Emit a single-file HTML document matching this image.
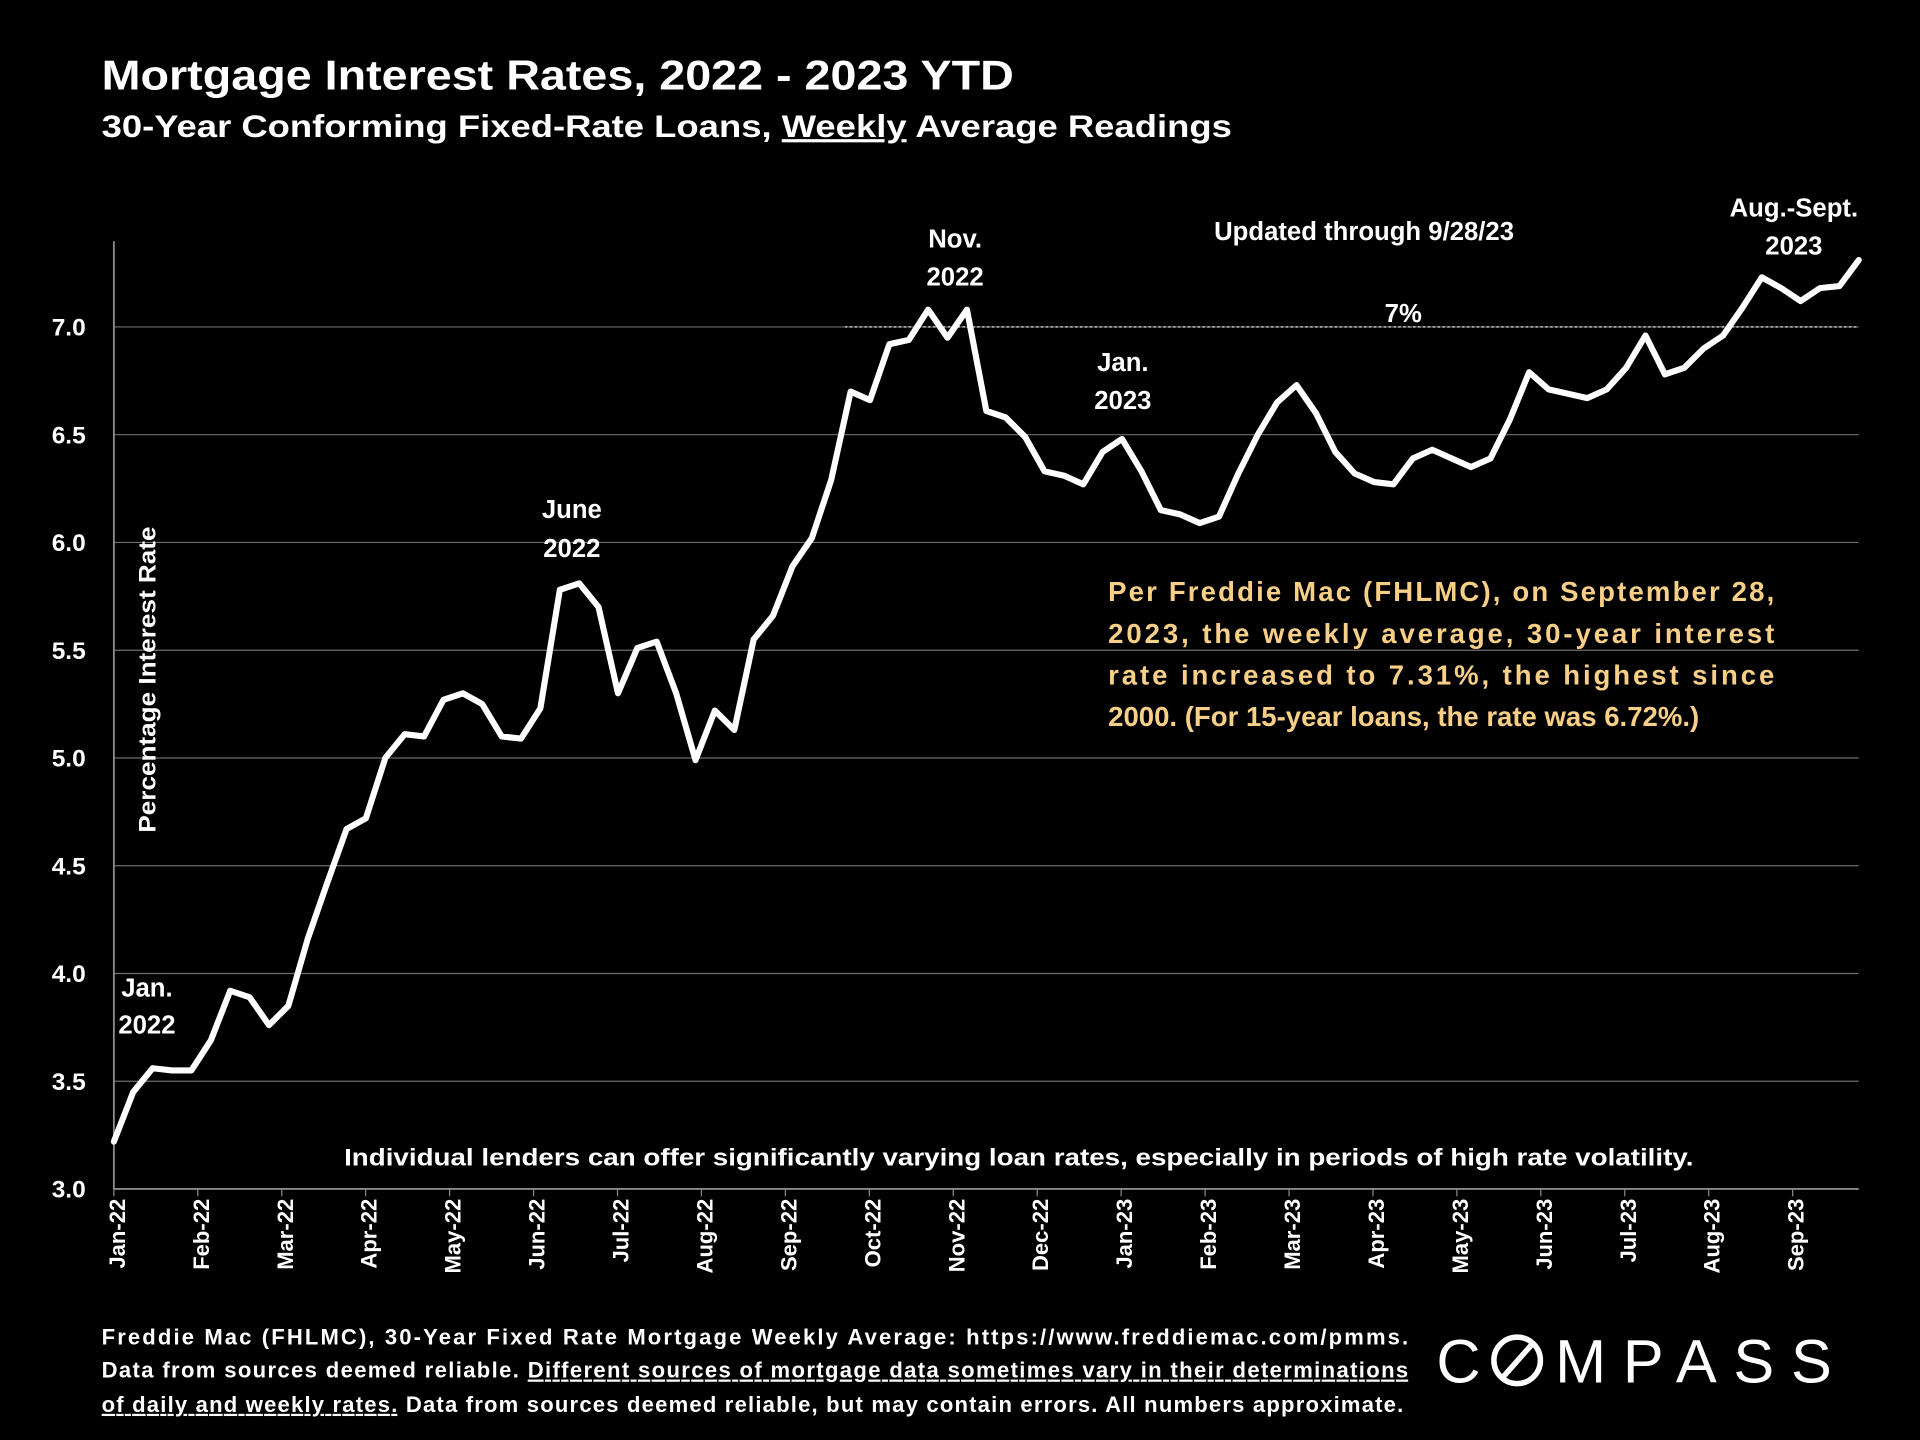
<!DOCTYPE html>
<html><head><meta charset="utf-8"><style>
html,body{margin:0;padding:0;background:#000;}
svg{display:block;}
text{font-family:"Liberation Sans",sans-serif;font-weight:bold;fill:#fff;}
</style></head><body>
<svg id="chart" width="1920" height="1440" viewBox="0 0 1568 1176" xmlns="http://www.w3.org/2000/svg">
<rect width="1568" height="1176" fill="#000"/>
<text x="83" y="73" font-size="34" textLength="745" lengthAdjust="spacingAndGlyphs">Mortgage Interest Rates, 2022 - 2023 YTD</text>
<text x="83" y="112" font-size="26" textLength="923" lengthAdjust="spacingAndGlyphs">30-Year Conforming Fixed-Rate Loans, <tspan text-decoration="underline">Weekly</tspan> Average Readings</text>
<g id="grid"></g>
<g id="yticks"></g>
<g id="xticks"></g>
<text transform="translate(127,555) rotate(-90)" text-anchor="middle" font-size="20" textLength="250" lengthAdjust="spacingAndGlyphs">Percentage Interest  Rate</text>
<line x1="690" x2="1516" y1="267" y2="267" stroke="#fff" stroke-width="1" stroke-dasharray="2,2"/>
<text x="1146" y="263" font-size="21" text-anchor="middle">7%</text>
<polyline id="series" fill="none" stroke="#fff" stroke-width="5" stroke-linejoin="round" stroke-linecap="round"/>
<g font-size="21" text-anchor="middle">
<text x="120" y="814">Jan.</text><text x="120" y="844">2022</text>
<text x="467" y="423">June</text><text x="467" y="455">2022</text>
<text x="780" y="202">Nov.</text><text x="780" y="233">2022</text>
<text x="917" y="303">Jan.</text><text x="917" y="334">2023</text>
<text x="1465" y="177">Aug.-Sept.</text><text x="1465" y="208">2023</text>
<text x="1114" y="196">Updated through 9/28/23</text>
</g>
<g font-size="22.5" style="fill:#f7cf86">
<text x="905" y="491" textLength="544" lengthAdjust="spacing" style="fill:#f7cf86">Per Freddie Mac (FHLMC), on September 28,</text>
<text x="905" y="525" textLength="544" lengthAdjust="spacing" style="fill:#f7cf86">2023, the weekly average, 30-year interest</text>
<text x="905" y="559" textLength="544" lengthAdjust="spacing" style="fill:#f7cf86">rate increased to 7.31%, the highest since</text>
<text x="905" y="593" style="fill:#f7cf86">2000. (For 15-year loans, the rate was 6.72%.)</text>
</g>
<text x="832" y="952" font-size="20" text-anchor="middle" textLength="1102" lengthAdjust="spacingAndGlyphs">Individual lenders can offer significantly varying loan rates, especially in periods of high rate volatility.</text>
<g font-size="18">
<text x="83" y="1098" textLength="1067" lengthAdjust="spacing">Freddie Mac (FHLMC), 30-Year Fixed Rate Mortgage Weekly Average:  https://www.freddiemac.com/pmms.</text>
<text x="83" y="1125" textLength="1067" lengthAdjust="spacing">Data from sources deemed reliable. <tspan text-decoration="underline">Different sources of mortgage data sometimes vary in their determinations</tspan></text>
<text x="83" y="1153" textLength="1063" lengthAdjust="spacing"><tspan text-decoration="underline">of daily and weekly rates.</tspan> Data from sources deemed reliable, but may contain errors. All numbers approximate.</text>
</g>
<g>
<text x="1173" y="1129" font-size="50" style="font-weight:normal" letter-spacing="9">C</text>
<circle cx="1239" cy="1111" r="19" fill="none" stroke="#fff" stroke-width="4.5"/>
<line x1="1228" y1="1124" x2="1251" y2="1098" stroke="#fff" stroke-width="4.5"/>
<text x="1270" y="1129" font-size="50" style="font-weight:normal" letter-spacing="9" textLength="235" lengthAdjust="spacing">MPASS</text>
</g>
</svg>
<script>
const yTicks=[3.0,3.5,4.0,4.5,5.0,5.5,6.0,6.5,7.0];
const monthLabels=["Jan-22","Feb-22","Mar-22","Apr-22","May-22","Jun-22","Jul-22","Aug-22","Sep-22","Oct-22","Nov-22","Dec-22","Jan-23","Feb-23","Mar-23","Apr-23","May-23","Jun-23","Jul-23","Aug-23","Sep-23"];
const rates=[3.22,3.45,3.56,3.55,3.55,3.69,3.92,3.89,3.76,3.85,4.16,4.42,4.67,4.72,5.00,5.11,5.10,5.27,5.30,5.25,5.10,5.09,5.23,5.78,5.81,5.70,5.30,5.51,5.54,5.30,4.99,5.22,5.13,5.55,5.66,5.89,6.02,6.29,6.70,6.66,6.92,6.94,7.08,6.95,7.08,6.61,6.58,6.49,6.33,6.31,6.27,6.42,
6.48,6.33,6.15,6.13,6.09,6.12,6.32,6.50,6.65,6.73,6.60,6.42,6.32,6.28,6.27,6.39,6.43,6.39,6.35,6.39,6.57,6.79,6.71,6.69,6.67,6.71,6.81,6.96,6.78,6.81,6.90,6.96,7.09,7.23,7.18,7.12,7.18,7.19,7.31];
const NS="http://www.w3.org/2000/svg";
const x0=93,x1=1518,yBase=971,yTop=267;
function yScale(v){return yBase-(v-3.0)/(7.0-3.0)*(yBase-yTop);}
function xScale(i){return x0+i*(x1-x0)/(rates.length-1);}
function mScale(i){return 96+i*(1467-96)/(monthLabels.length-1);}
function mk(tag,attrs,parent){const e=document.createElementNS(NS,tag);for(const k in attrs)e.setAttribute(k,attrs[k]);parent.appendChild(e);return e;}
const grid=document.getElementById('grid'),yt=document.getElementById('yticks'),xt=document.getElementById('xticks');
yTicks.forEach(v=>{
  if(v>3.0){const l=mk('line',{x1:x0,x2:x1,y1:yScale(v),y2:yScale(v),stroke:'#6e6e6e','stroke-width':1},grid);
  
  }
  const t=mk('text',{x:70,y:yScale(v)+7,'text-anchor':'end','font-size':20},yt);
  t.textContent=v.toFixed(1);
  
  
});
const ax=mk('line',{x1:x0,x2:x0,y1:197,y2:yBase,stroke:'#8a8a8a','stroke-width':1.5},grid);


const bx=mk('line',{x1:x0,x2:x1,y1:yBase,y2:yBase,stroke:'#8a8a8a','stroke-width':1.5},grid);


monthLabels.forEach((m,i)=>{
  const x=mScale(i);
  const tk=mk('line',{x1:x-3,x2:x-3,y1:yBase,y2:yBase+6,stroke:'#8a8a8a'},xt);
  
  
  const t=mk('text',{transform:`translate(${x+6},${yBase+8}) rotate(-90)`,'text-anchor':'end','font-size':18},xt);
  t.textContent=m;
  
  
});
document.getElementById('series').setAttribute('points',rates.map((v,i)=>xScale(i).toFixed(1)+','+yScale(v).toFixed(1)).join(' '));
</script>
</body></html>
